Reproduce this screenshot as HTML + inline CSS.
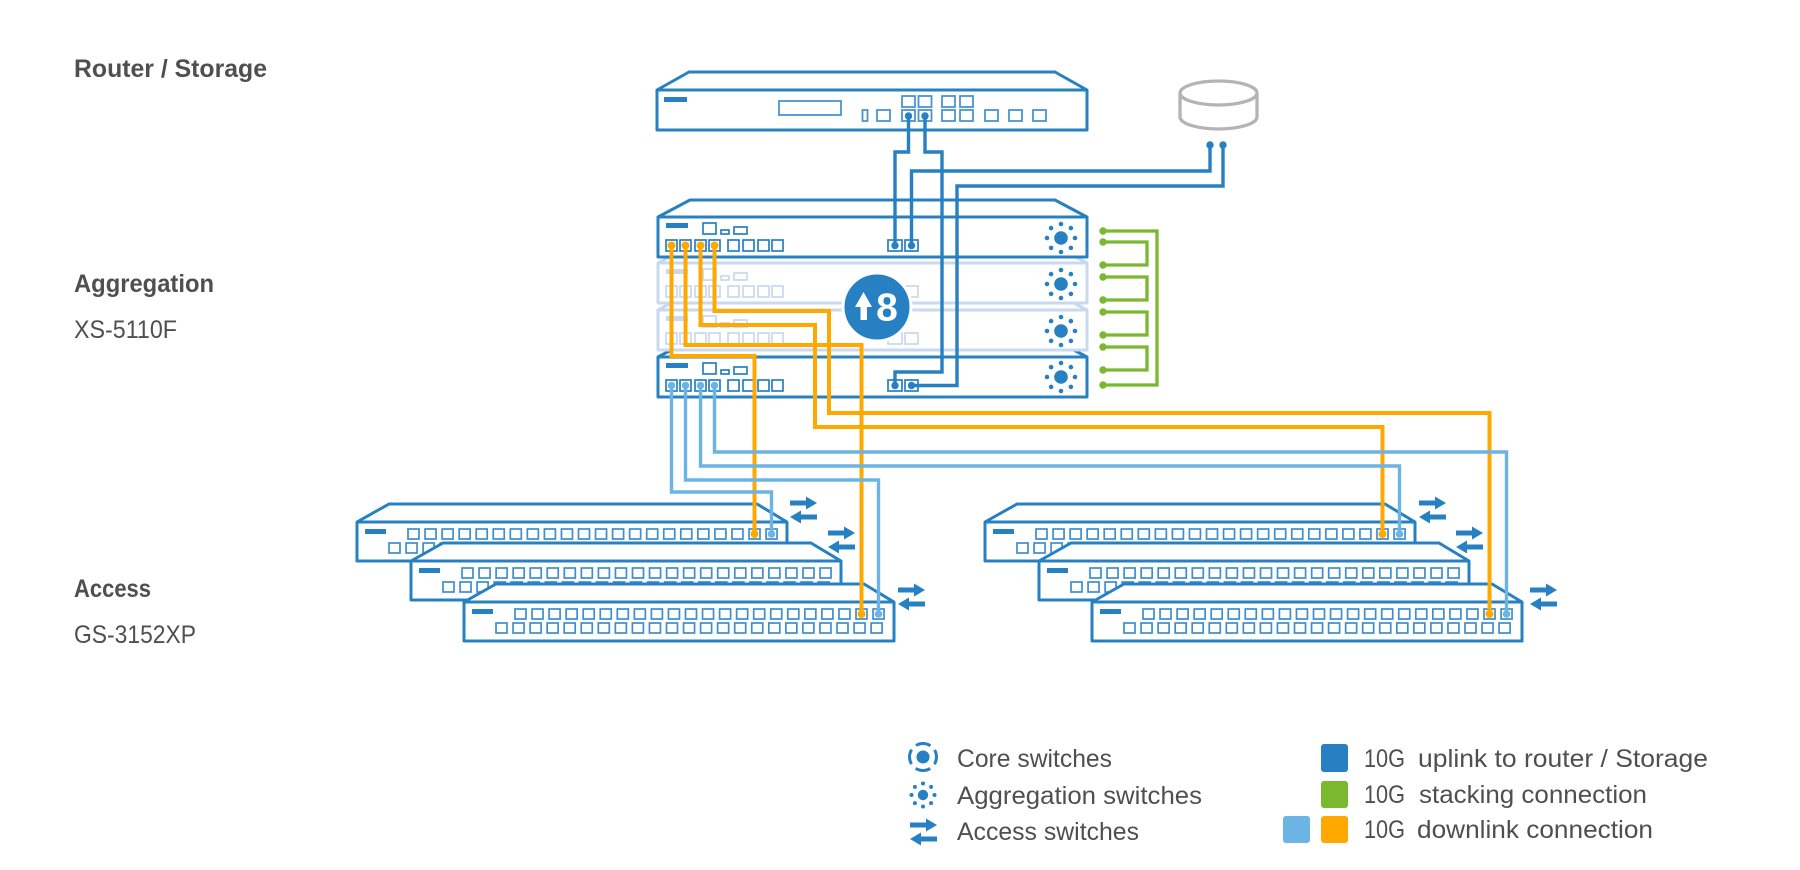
<!DOCTYPE html>
<html><head><meta charset="utf-8"><style>
html,body{margin:0;padding:0;background:#fff;}
svg{display:block;}
text{font-family:"Liberation Sans",sans-serif;fill:#4f4f4f;}
</style></head><body>
<svg width="1800" height="870" viewBox="0 0 1800 870" xmlns="http://www.w3.org/2000/svg">
<defs>
  <g id="r22" fill="none" stroke="#3e8dcf" stroke-width="1.7">
    <rect x="0" y="0" width="11" height="10"/><rect x="17.05" y="0" width="11" height="10"/><rect x="34.1" y="0" width="11" height="10"/><rect x="51.15" y="0" width="11" height="10"/><rect x="68.2" y="0" width="11" height="10"/><rect x="85.25" y="0" width="11" height="10"/><rect x="102.3" y="0" width="11" height="10"/><rect x="119.35" y="0" width="11" height="10"/><rect x="136.4" y="0" width="11" height="10"/><rect x="153.45" y="0" width="11" height="10"/><rect x="170.5" y="0" width="11" height="10"/><rect x="187.55" y="0" width="11" height="10"/><rect x="204.6" y="0" width="11" height="10"/><rect x="221.65" y="0" width="11" height="10"/><rect x="238.7" y="0" width="11" height="10"/><rect x="255.75" y="0" width="11" height="10"/><rect x="272.8" y="0" width="11" height="10"/><rect x="289.85" y="0" width="11" height="10"/><rect x="306.9" y="0" width="11" height="10"/><rect x="323.95" y="0" width="11" height="10"/><rect x="341" y="0" width="11" height="10"/><rect x="358.05" y="0" width="11" height="10"/>
  </g>
  <g id="r23">
    <use href="#r22"/>
    <rect x="375.1" y="0" width="11" height="10" fill="none" stroke="#3e8dcf" stroke-width="1.7"/>
  </g>
  <g id="acc">
    <path d="M0,0 L32,-18 L400,-18 L430,0 V39 H0 Z M0,0 H430" fill="#fff" stroke="#2680c2" stroke-width="3" stroke-linejoin="round"/>
    <rect x="8" y="7" width="21" height="5" fill="#2680c2"/>
    <use href="#r22" x="51" y="7"/>
    <use href="#r23" x="32" y="21"/>
  </g>
  <g id="agg">
    <path d="M0,0 L32,-17 L397,-17 L429,0 V40 H0 Z M0,0 H429" fill="#fff" stroke="currentColor" stroke-width="3" stroke-linejoin="round"/>
    <rect x="8" y="6" width="22" height="5" fill="currentColor"/>
    <g fill="none" stroke="currentColor" stroke-width="1.7">
      <rect x="45" y="6" width="13" height="11"/>
      <rect x="63" y="13" width="8" height="4"/>
      <rect x="76" y="10" width="13" height="7"/>
      <rect x="8" y="23" width="11" height="11"/>
      <rect x="22" y="23" width="11" height="11"/>
      <rect x="37" y="23" width="11" height="11"/>
      <rect x="51" y="23" width="11" height="11"/>
      <rect x="70" y="23" width="11" height="11"/>
      <rect x="85" y="23" width="11" height="11"/>
      <rect x="100" y="23" width="11" height="11"/>
      <rect x="114" y="23" width="11" height="11"/>
      <rect x="230" y="23" width="14" height="11"/>
      <rect x="247" y="23" width="13" height="11"/>
    </g>
  </g>
  <g id="sun" fill="#2680c2">
    <circle cx="0" cy="0" r="6.8"/>
    <circle cx="14" cy="0" r="2.3"/><circle cx="9.9" cy="9.9" r="2.3"/><circle cx="0" cy="14" r="2.3"/><circle cx="-9.9" cy="9.9" r="2.3"/>
    <circle cx="-14" cy="0" r="2.3"/><circle cx="-9.9" cy="-9.9" r="2.3"/><circle cx="0" cy="-14" r="2.3"/><circle cx="9.9" cy="-9.9" r="2.3"/>
  </g>
  <g id="arrows" fill="#2680c2">
    <rect x="0" y="-2.5" width="18" height="5"/>
    <polygon points="16,-6.5 27,0 16,6.5"/>
    <rect x="9" y="11.5" width="18" height="5"/>
    <polygon points="0,14 11,7.5 11,20.5"/>
  </g>
</defs>

<!-- Labels -->
<text x="74" y="77" font-size="25" font-weight="bold" textLength="193" lengthAdjust="spacingAndGlyphs">Router / Storage</text>
<text x="74" y="292" font-size="25" font-weight="bold" textLength="140" lengthAdjust="spacingAndGlyphs">Aggregation</text>
<text x="74" y="338" font-size="25" textLength="103" lengthAdjust="spacingAndGlyphs">XS-5110F</text>
<text x="74" y="597" font-size="25" font-weight="bold" textLength="77" lengthAdjust="spacingAndGlyphs">Access</text>
<text x="74" y="643" font-size="25" textLength="122" lengthAdjust="spacingAndGlyphs">GS-3152XP</text>

<!-- Router -->
<path d="M657,90 L689,72 L1055,72 L1087,90 V130 H657 Z M657,90 H1087" fill="#fff" stroke="#2680c2" stroke-width="3" stroke-linejoin="round"/>
<rect x="664" y="97" width="23" height="5" fill="#2680c2"/>
<g fill="none" stroke="#4a93d2" stroke-width="1.8">
  <rect x="779" y="101" width="62" height="14"/>
  <rect x="862.5" y="110" width="5" height="11"/>
  <rect x="902" y="96" width="13" height="11"/><rect x="918.5" y="96" width="13" height="11"/><rect x="942" y="96" width="13" height="11"/><rect x="960" y="96" width="13" height="11"/>
  <rect x="877" y="110" width="13" height="11"/><rect x="902" y="110" width="13" height="11"/><rect x="918.5" y="110" width="13" height="11"/><rect x="942" y="110" width="13" height="11"/><rect x="960" y="110" width="13" height="11"/><rect x="985" y="110" width="13" height="11"/><rect x="1009" y="110" width="13" height="11"/><rect x="1033" y="110" width="13" height="11"/>
</g>

<!-- Storage -->
<path d="M1180,93 V117 A38.5,12 0 0 0 1257,117 V93" fill="#fff" stroke="#b4b4b4" stroke-width="3.3"/>
<ellipse cx="1218.5" cy="93" rx="38.5" ry="12" fill="#fff" stroke="#b4b4b4" stroke-width="3.3"/>

<!-- Aggregation stack (bottom first) -->
<use href="#agg" x="658" y="357" style="color:#2680c2"/>
<use href="#sun" x="1061" y="377"/>
<use href="#agg" x="658" y="310" style="color:#c8d9f0"/>
<use href="#sun" x="1061" y="331"/>
<use href="#agg" x="658" y="263" style="color:#c8d9f0"/>
<use href="#sun" x="1061" y="284"/>
<use href="#agg" x="658" y="217" style="color:#2680c2"/>
<use href="#sun" x="1061" y="238"/>

<!-- x8 badge -->
<circle cx="877" cy="307" r="34" fill="#2680c2" stroke="#fff" stroke-width="3"/>
<polygon points="855,307 863.5,292 872,307" fill="#fff"/>
<rect x="860.5" y="306" width="6.5" height="14" fill="#fff"/>
<text x="887" y="320.5" font-size="39" font-weight="bold" text-anchor="middle" style="fill:#fff">8</text>

<!-- Access switches left -->
<use href="#acc" x="357" y="522"/>
<use href="#acc" x="411" y="561"/>
<use href="#acc" x="464" y="602"/>
<!-- Access switches right -->
<use href="#acc" x="985" y="522"/>
<use href="#acc" x="1039" y="561"/>
<use href="#acc" x="1092" y="602"/>

<!-- Arrows -->
<use href="#arrows" x="790" y="503"/>
<use href="#arrows" x="828" y="533"/>
<use href="#arrows" x="898" y="590"/>
<use href="#arrows" x="1419" y="503"/>
<use href="#arrows" x="1456" y="533"/>
<use href="#arrows" x="1530" y="590"/>

<!-- Blue uplinks -->
<g fill="none" stroke="#2680c2" stroke-width="3.4">
  <path d="M908.5,116 V152 H895 V245.5"/>
  <path d="M925,116 V152 H942 V372 H895 V385.5"/>
  <path d="M1210,145 V171 H911.5 V245.5"/>
  <path d="M1223,145 V186 H957 V385.5 H911.5"/>
</g>
<g fill="#2680c2">
  <circle cx="908.5" cy="116" r="3.7"/><circle cx="925" cy="116" r="3.7"/>
  <circle cx="1210" cy="145" r="3.7"/><circle cx="1223" cy="145" r="3.7"/>
  <circle cx="895" cy="245.5" r="3.7"/><circle cx="911.5" cy="245.5" r="3.7"/>
  <circle cx="895" cy="385.5" r="3.7"/><circle cx="911.5" cy="385.5" r="3.7"/>
</g>

<!-- Orange downlinks -->
<g fill="none" stroke="#ffa800" stroke-width="4">
  <path d="M671.5,245.5 V356 H754.5 V534"/>
  <path d="M685.5,245.5 V345 H861.5 V614"/>
  <path d="M700.5,245.5 V325 H815 V427 H1382.5 V534"/>
  <path d="M714.5,245.5 V311 H829 V413 H1489.5 V614"/>
</g>
<g fill="#ffa800">
  <circle cx="671.5" cy="245.5" r="4"/><circle cx="685.5" cy="245.5" r="4"/><circle cx="700.5" cy="245.5" r="4"/><circle cx="714.5" cy="245.5" r="4"/>
  <circle cx="754.5" cy="534" r="4"/><circle cx="861.5" cy="614" r="4"/><circle cx="1382.5" cy="534" r="4"/><circle cx="1489.5" cy="614" r="4"/>
</g>

<!-- Light blue downlinks (on top of orange) -->
<g fill="none" stroke="#6cb4e4" stroke-width="3.4">
  <path d="M671.5,385.5 V492 H771.5 V534"/>
  <path d="M685.5,385.5 V480 H878.5 V614"/>
  <path d="M700.5,385.5 V466 H1399.5 V534"/>
  <path d="M714.5,385.5 V452 H1506.5 V614"/>
</g>
<g fill="#6cb4e4">
  <circle cx="671.5" cy="385.5" r="3.8"/><circle cx="685.5" cy="385.5" r="3.8"/><circle cx="700.5" cy="385.5" r="3.8"/><circle cx="714.5" cy="385.5" r="3.8"/>
  <circle cx="771.5" cy="534" r="3.8"/><circle cx="878.5" cy="614" r="3.8"/><circle cx="1399.5" cy="534" r="3.8"/><circle cx="1506.5" cy="614" r="3.8"/>
</g>

<!-- Green stacking -->
<g fill="none" stroke="#7ab830" stroke-width="3.3">
  <path d="M1103,231 H1157 V385 H1103"/>
  <path d="M1103,242 H1147 V265 H1103"/>
  <path d="M1103,277 H1147 V300 H1103"/>
  <path d="M1103,312 H1147 V335 H1103"/>
  <path d="M1103,347 H1147 V370 H1103"/>
</g>
<g fill="#7ab830">
  <circle cx="1103" cy="231" r="3.7"/><circle cx="1103" cy="242" r="3.7"/><circle cx="1103" cy="265" r="3.7"/><circle cx="1103" cy="277" r="3.7"/>
  <circle cx="1103" cy="300" r="3.7"/><circle cx="1103" cy="312" r="3.7"/><circle cx="1103" cy="335" r="3.7"/><circle cx="1103" cy="347" r="3.7"/>
  <circle cx="1103" cy="370" r="3.7"/><circle cx="1103" cy="385" r="3.7"/>
</g>

<!-- Legend left -->
<circle cx="923" cy="757" r="6.5" fill="#2680c2"/>
<circle cx="923" cy="757" r="13.5" fill="none" stroke="#2680c2" stroke-width="3" stroke-dasharray="15.2 6" stroke-dashoffset="7.6"/>
<g fill="#2680c2">
  <circle cx="923" cy="795" r="5.2"/>
  <circle cx="934.5" cy="795" r="2"/><circle cx="931.1" cy="803.1" r="2"/><circle cx="923" cy="806.5" r="2"/><circle cx="914.9" cy="803.1" r="2"/>
  <circle cx="911.5" cy="795" r="2"/><circle cx="914.9" cy="786.9" r="2"/><circle cx="923" cy="783.5" r="2"/><circle cx="931.1" cy="786.9" r="2"/>
</g>
<use href="#arrows" x="910" y="825"/>
<text x="957" y="767" font-size="25" textLength="155" lengthAdjust="spacingAndGlyphs">Core switches</text>
<text x="957" y="804" font-size="25" textLength="245" lengthAdjust="spacingAndGlyphs">Aggregation switches</text>
<text x="957" y="840" font-size="25" textLength="182" lengthAdjust="spacingAndGlyphs">Access switches</text>

<!-- Legend right -->
<rect x="1321" y="744" width="27" height="28" rx="3" fill="#2680c2"/>
<rect x="1321" y="781" width="27" height="27" rx="3" fill="#7ab830"/>
<rect x="1321" y="816" width="27" height="27" rx="3" fill="#ffa800"/>
<rect x="1283" y="816" width="27" height="27" rx="3" fill="#6cb4e4"/>
<text x="1364" y="767" font-size="25" textLength="41" lengthAdjust="spacingAndGlyphs">10G</text>
<text x="1418" y="767" font-size="25" textLength="290" lengthAdjust="spacingAndGlyphs">uplink to router / Storage</text>
<text x="1364" y="803" font-size="25" textLength="41" lengthAdjust="spacingAndGlyphs">10G</text>
<text x="1419" y="803" font-size="25" textLength="228" lengthAdjust="spacingAndGlyphs">stacking connection</text>
<text x="1364" y="838" font-size="25" textLength="41" lengthAdjust="spacingAndGlyphs">10G</text>
<text x="1417" y="838" font-size="25" textLength="236" lengthAdjust="spacingAndGlyphs">downlink connection</text>
</svg>
</body></html>
